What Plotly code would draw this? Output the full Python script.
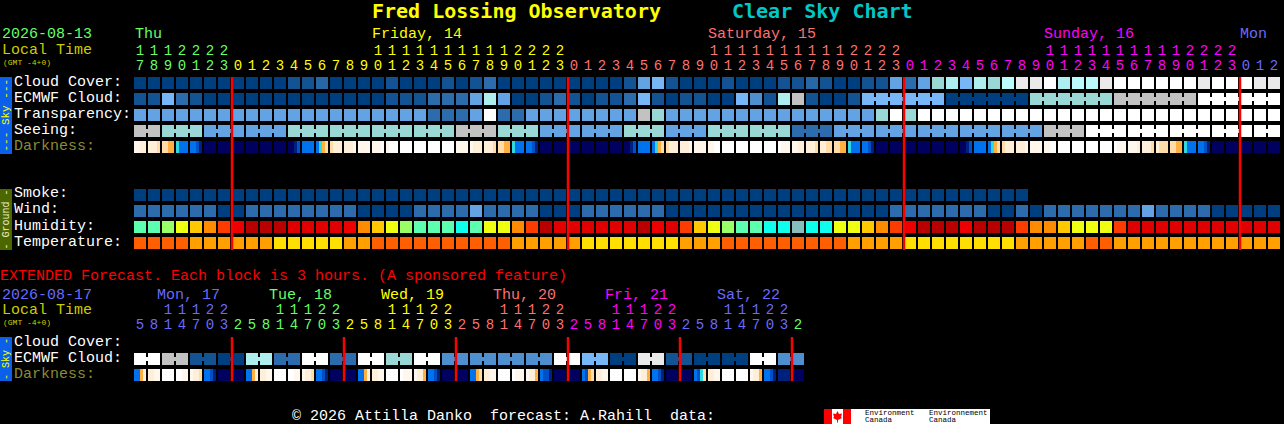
import plotly.graph_objects as go

W, H = 1284, 424
LEFT, PITCH = 134, 14
FONT = "Liberation Mono"
TITLE_FONT = "DejaVu Sans Mono"

# ---------- forecast values (one entry per hourly block; level codes into the palettes) ----------
cloud_cover = [0,0,0,0,0,0,0,0,0,0,0,1,1,2,0,0,0,0,1,0,0,0,
               1,0,1,3,0,0,0,0,0,0,0,0,0,1,5,6,1,0,0,0,1,0,0,0,1,1,2,1,0,0,
               1,1,5,3,5,7,8,6,8,7,9,11,11,12,8,9,9,11,12,12,12,12,12,12,11,12,12,12,11,11]
ecmwf_cloud = [1,1,6,3,1,0,0,0,0,0,0,0,0,0,0,0,0,0,1,1,1,
               3,3,3,5,8,5,0,0,1,3,1,0,1,1,3,6,1,0,1,1,0,0,6,4,1,8,10,1,0,0,1,
               6,6,6,6,6,6,0,0,0,0,0,0,7,7,7,7,7,7,10,10,10,10,10,10,12,12,12,12,12,12]
transparency = [5]*21 + [3,3,3,5,12,3,3] + [5]*8 + [10,7] + [5]*15 + [7,12,7] + [12]*26
seeing = [10,10, 7,7,7, 5,5,5, 5,5,5, 7,7,7, 7,7,7, 7,7,7, 7,7,7, 10,10,10, 7,7,7,
          5,5,5, 5,5,5, 7,7,7, 5,5,5, 7,7,7, 7,7,7, 3,3,3, 5,5,5, 5,5,5, 5,5,5, 5,5,5, 5,5,5,
          10,10,10] + [12]*14
darkness = ["1122","2223","3344","5666","6678","9999","9999","9999","9999","9999","9999","9987",
            "6666","6543","3222","2221","1111","1110","1000","0000","0000","0000","0000","1111",
            "1222","2223","3344","5666","6678","9999","9999","9999","9999","9999","9999","9987",
            "6666","6543","3222","2221","1111","1100","0000","0000","0000","0000","0111","1122",
            "2223","2233","3344","5666","6678","9999","9999","9999","9999","9999","9999","9987",
            "6666","6543","3222","2221","1111","1100","0000","0000","0000","0000","0111","1112",
            "2223","2333","3344","5666","6678","9999","9999","9999","9999","9999"]
smoke = [0]*64
wind = [3,3,3,3,3,3,0,0,3,3,3,3,3,3,3,3,0,0,0,0,3,3,3,3,5,3,3,3,3,0,0,0,
        3,3,3,3,3,3,0,0,0,0,0,0,0,0,0,0,0,0,0,0,0,0,3,3,3,3,3,3,3,0,0,3,0,3,3,3,3,3,3,3,5,3,3,3,3,0,0,0,0,0]
humidity = [2,2,3,4,5,6,7,8,10,10,10,9,9,9,9,8,6,5,4,3,2,2,2,1,2,4,4,6,7,10,9,9,9,9,9,9,10,8,9,7,5,4,3,2,2,1,1,0,1,1,4,4,
            5,6,7,8,10,10,10,8,10,10,10,7,6,6,5,4,4,4,7,9,9,9,9,9,9,9,9,9,9,9]
temperature = [0,0,0,0,1,1,1,1,1,1,2,2,2,2,2,1,1,0,0,0,0,0,0,0,0,0,0,1,1,1,1,1,2,2,2,2,2,2,2,1,1,1,0,0,0,0,0,0,0,0,0,1,
               1,1,1,2,2,2,2,2,2,2,2,1,1,1,1,1,0,0,1,1,1,1,1,1,1,1,1,1,1,1]
hours = [17,18,19,20,21,22,23] + list(range(24))*3 + [0,1,2]

# ---------- extended forecast (one entry per 3-hour block) ----------
ext_ecmwf = [12,12,10,10,1,1,0,0,8,8,3,3,12,12,3,3,12,12,7,7,12,12,4,4,4,4,4,4,4,4,
             12,12,6,6,0,0,11,11,1,1,0,0,0,0,12,12,4,4]
ext_darkness = ["6642","2211","0000","0011","1223","6678","9999","9999",
                "6642","2211","0000","0011","1223","6678","9999","9999",
                "6642","2211","0000","0111","1224","6678","9999","9999",
                "6643","2211","0000","0111","1224","6778","9999","9999",
                "6743","2211","0000","0000","1224","6678","9999","9999",
                "6753","2211","0000","0000","1224","6678","8888","9999"]
ext_hours = [5,8,11,14,17,20,23] + [2,5,8,11,14,17,20,23]*5 + [2]

# ---------- palettes ----------
SKY = ["#003F7F","#135393","#2767A7","#2C6CAC","#4F8FCF","#63A3E3","#77B7F7","#9AD8D6","#AEEEEE",
       "#BBFBFB","#C2C2C2","#EAEAEA","#FFFFFF"]
DARK = ["#FFFFFF","#FFF7EC","#FFEFD8","#FFDCA8","#FFB040","#30D8E0","#0072EE","#0050C8","#002080","#000060"]
HUM = ["#88BDBD","#0FFFEE","#5CFFB0","#99FF66","#EEFF11","#FFC800","#FF8C00","#FF3C00","#EE0000","#E00000","#B80000"]
TEMP = ["#FF5F00","#FFA000","#FFDF00"]

GREEN, YELLOW, SALMON, MAGENTA, BLUE = "#66FF66", "#FFFF00", "#FF7070", "#FF00FF", "#6A6AFF"
OLIVE, LABEL_Y = "#8B8B33", "#CCCC00"


def scale(colors):
    n = len(colors)
    out = []
    for k, c in enumerate(colors):
        out += [[k / n, c], [(k + 1) / n, c]]
    return out


def px(x):
    return (x - LEFT) / PITCH


fig = go.Figure()
CENTER = 6 / PITCH


def row(values, top, colors):
    fig.add_trace(go.Heatmap(z=[values], x0=CENTER, dx=1, y0=top + 6, dy=16, xgap=2, ygap=4,
                             colorscale=scale(colors), zmin=-0.5, zmax=len(colors) - 0.5,
                             showscale=False, hoverinfo="skip"))


def links(values, top, colors, group):
    z = [values[i] if group(i) is not None and group(i) == group(i + 1) else None
         for i in range(len(values) - 1)]
    fig.add_trace(go.Heatmap(z=[z], x0=13 / PITCH, dx=1, y0=top + 6, dy=16, xgap=10, ygap=12,
                             colorscale=scale(colors), zmin=-0.5, zmax=len(colors) - 0.5,
                             showscale=False, hoverinfo="skip"))


def gradient_row(samples, top):
    edges, z = [], []
    for i, s in enumerate(samples):
        edges += [i + k * 3 / PITCH for k in range(5)]
        z += [int(c) for c in s] + [None]
    edges.append(len(samples))
    fig.add_trace(go.Heatmap(z=[z], x=edges, y0=top + 6, dy=16, ygap=4,
                             colorscale=scale(DARK), zmin=-0.5, zmax=len(DARK) - 0.5,
                             showscale=False, hoverinfo="skip"))


# main rows
row(cloud_cover, 77, SKY)
links(ecmwf_cloud, 93, SKY, lambda i: (i - 52) // 6 if i >= 52 else None)
row(ecmwf_cloud, 93, SKY)
row(transparency, 109, SKY)
links(seeing, 125, SKY, lambda i: (i + 1) // 3)
row(seeing, 125, SKY)
gradient_row(darkness, 141)
row(smoke, 189, SKY)
row(wind, 205, SKY)
row(humidity, 221, HUM)
row(temperature, 237, TEMP)
# extended rows
links(ext_ecmwf, 353, SKY, lambda i: i // 2)
row(ext_ecmwf, 353, SKY)
gradient_row(ext_darkness, 369)

# midnight lines
for b in [7, 31, 55, 79]:
    fig.add_trace(go.Scatter(x=[b, b], y=[77, 250], mode="lines", line=dict(color="#FF0000", width=2.5), hoverinfo="skip"))
for b in [7, 15, 23, 31, 39, 47]:
    fig.add_trace(go.Scatter(x=[b, b], y=[337, 381], mode="lines", line=dict(color="#FF0000", width=2.5), hoverinfo="skip"))


# hour labels
def main_color(i):
    return GREEN if i < 7 else YELLOW if i < 31 else SALMON if i < 55 else MAGENTA if i < 79 else BLUE


def ext_color(i):
    cols = [BLUE, GREEN, YELLOW, SALMON, MAGENTA, BLUE, GREEN]
    return cols[(i + 1) // 8]


def hour_labels(hrs, color, y_tens, y_units):
    xs = [i + CENTER for i in range(len(hrs))]
    cols = [color(i) for i in range(len(hrs))]
    fig.add_trace(go.Scatter(x=xs, y=[y_units] * len(hrs), mode="text", text=[str(h % 10) for h in hrs],
                             textposition="middle center", textfont=dict(family=FONT, size=14, color=cols), hoverinfo="skip"))
    idx = [i for i, h in enumerate(hrs) if h >= 10]
    fig.add_trace(go.Scatter(x=[xs[i] for i in idx], y=[y_tens] * len(idx), mode="text",
                             text=[str(hrs[i] // 10) for i in idx], textposition="middle center",
                             textfont=dict(family=FONT, size=14, color=[cols[i] for i in idx]), hoverinfo="skip"))


hour_labels(hours, main_color, 51, 66)
hour_labels(ext_hours, ext_color, 310, 325)

annotations = []


def text(x, y, s, color="#FFFFFF", size=15, bold=False, angle=0, anchor="left", family=FONT):
    annotations.append(dict(x=x / W, y=1 - y / H, xref="paper", yref="paper", text=f"<b>{s}</b>" if bold else s,
                            showarrow=False, xanchor=anchor, yanchor="middle", textangle=angle,
                            font=dict(family=family, size=size, color=color), borderpad=0, borderwidth=0))


text(372, 11, "Fred Lossing Observatory", YELLOW, 20, True, family=TITLE_FONT)
text(732, 11, "Clear Sky Chart", "#00C8C8", 20, True, family=TITLE_FONT)
text(2, 35, "2026-08-13", GREEN)
text(2, 51, "Local Time", LABEL_Y)
text(3, 62, "(GMT -4+0)", LABEL_Y, 8)
for x, s, c in [(135, "Thu", GREEN), (372, "Friday, 14", YELLOW), (708, "Saturday, 15", SALMON),
                (1044, "Sunday, 16", MAGENTA), (1240, "Mon", BLUE)]:
    text(x, 35, s, c)
for y, s, c in [(82, "Cloud Cover:", "#FFFFFF"), (98, "ECMWF Cloud:", "#FFFFFF"), (114, "Transparency:", "#FFFFFF"),
                (130, "Seeing:", "#FFFFFF"), (146, "Darkness:", OLIVE), (194, "Smoke:", "#FFFFFF"),
                (210, "Wind:", "#FFFFFF"), (226, "Humidity:", "#FFFFFF"), (242, "Temperature:", "#FFFFFF"),
                (342, "Cloud Cover:", "#FFFFFF"), (358, "ECMWF Cloud:", "#FFFFFF"), (374, "Darkness:", OLIVE)]:
    text(14, y, s, c)
text(0, 276, "EXTENDED Forecast. Each block is 3 hours. (A sponsored feature)", "#FF0000")
text(2, 295, "2026-08-17", BLUE)
text(2, 310, "Local Time", LABEL_Y)
text(3, 322, "(GMT -4+0)", LABEL_Y, 8)
for x, s, c in [(157, "Mon, 17", BLUE), (269, "Tue, 18", GREEN), (381, "Wed, 19", YELLOW), (493, "Thu, 20", SALMON),
                (605, "Fri, 21", MAGENTA), (717, "Sat, 22", BLUE)]:
    text(x, 295, s, c)
text(292, 416, "© 2026 Attilla Danko  forecast: A.Rahill  data:")
text(6, 115.5, "--- Sky ---", YELLOW, 11, angle=-90, anchor="center")
text(6, 219.5, "- Ground -", "#F0F0C0", 10, angle=-90, anchor="center")
text(6, 359, "- Sky -", YELLOW, 10, angle=-90, anchor="center")
for x, a, b in [(865, "Environment", "Canada"), (929, "Environnement", "Canada")]:
    text(x, 413, a, "#000000", 7.5)
    text(x, 420, b, "#000000", 7.5)


def rect(x0, y0, x1, y1, color):
    return dict(type="rect", xref="paper", yref="paper", x0=x0 / W, x1=x1 / W, y0=1 - y0 / H, y1=1 - y1 / H,
                fillcolor=color, line_width=0, layer="below")


def leaf(points):
    path = "M " + " L ".join(f"{x / W},{1 - y / H}" for x, y in points) + " Z"
    return dict(type="path", xref="paper", yref="paper", path=path, fillcolor="#FF0000", line_width=0, layer="below")


shapes = [rect(0, 77, 12, 154, "#0A60E8"), rect(0, 189, 12, 250, "#4C6600"), rect(0, 337, 12, 381, "#0A60E8"),
          rect(824, 409, 990, 424, "#FFFFFF"), rect(824, 409, 832, 424, "#FF0000"), rect(843, 409, 851, 424, "#FF0000"),
          leaf([(837.5, 411), (839, 414), (842, 413.5), (841, 417), (842, 418), (838, 420), (838, 422.5), (837, 422.5),
                (837, 420), (833, 418), (834, 417), (833, 413.5), (836, 414)])]

fig.update_layout(width=W, height=H, autosize=False, margin=dict(l=0, r=0, t=0, b=0, pad=0),
                  paper_bgcolor="#000000", plot_bgcolor="#000000", showlegend=False,
                  xaxis=dict(range=[px(0), px(W)], visible=False, fixedrange=True),
                  yaxis=dict(range=[H, 0], visible=False, fixedrange=True),
                  annotations=annotations, shapes=shapes)

fig.write_html("out.html", config={"displayModeBar": False, "responsive": False},
               post_script="document.documentElement.style.background='#000';document.body.style.margin='0';document.body.style.overflow='hidden';")
